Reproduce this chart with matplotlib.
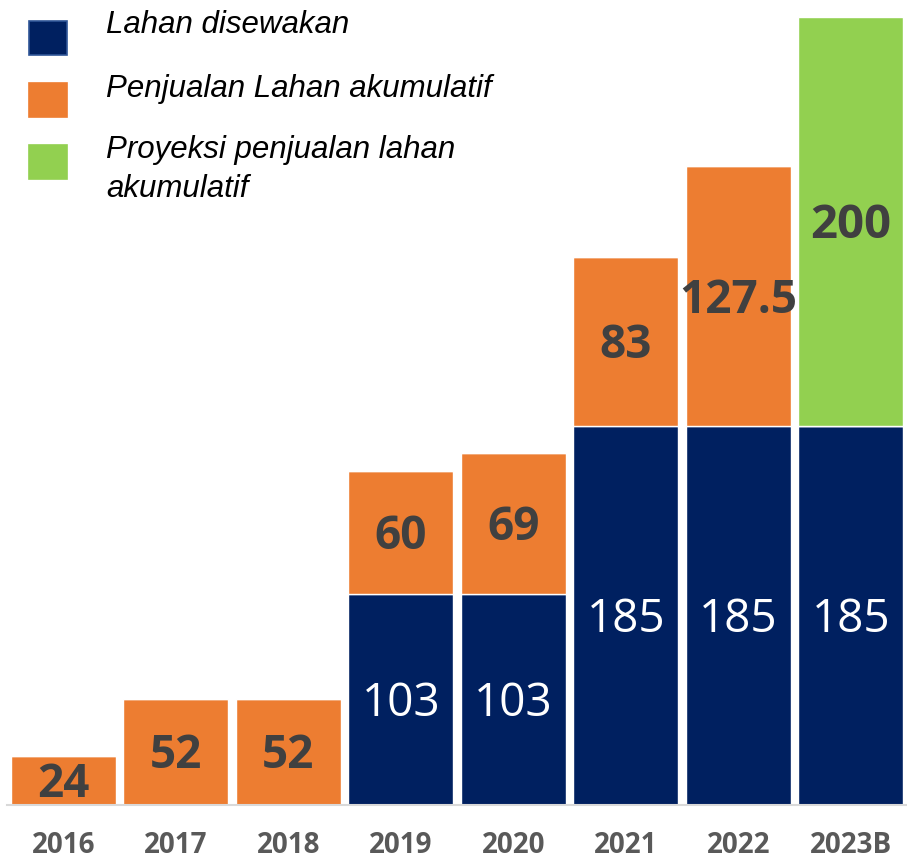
import matplotlib
matplotlib.use('Agg')
import matplotlib.pyplot as plt
from matplotlib.patches import Rectangle
import numpy as np

# data
years = ['2016', '2017', '2018', '2019', '2020', '2021', '2022', '2023B']
lahan_disewakan = [0, 0, 0, 103, 103, 185, 185, 185]
penjualan_akumulatif = [24, 52, 52, 60, 69, 83, 127.5, 0]
proyeksi_penjualan = [0, 0, 0, 0, 0, 0, 0, 200]

legend_labels = [['Lahan disewakan'], ['Penjualan Lahan akumulatif'],
                 ['Proyeksi penjualan lahan', 'akumulatif']]

navy = '#002060'
orange = '#ED7D31'
green = '#92D050'

W, H = 907, 861
fig = plt.figure(figsize=(W / 100, H / 100), dpi=100)
ax = fig.add_axes([7 / W, 56 / H, 900 / W, 788 / H])

x = np.arange(len(years))
width = 0.93
kw = dict(width=width, edgecolor='white', linewidth=1.0)

ax.bar(x, lahan_disewakan, color=navy, **kw)
ax.bar(x, penjualan_akumulatif, bottom=lahan_disewakan, color=orange, **kw)
bottom2 = np.array(lahan_disewakan) + np.array(penjualan_akumulatif)
ax.bar(x, proyeksi_penjualan, bottom=bottom2, color=green, **kw)

# value labels
for i in range(len(years)):
    if lahan_disewakan[i] > 0:
        ax.text(x[i], lahan_disewakan[i] / 2 - 2, f'{lahan_disewakan[i]:g}',
                ha='center', va='center', color='white', fontsize=33,
                family='Open Sans')
    if penjualan_akumulatif[i] > 0:
        ax.text(x[i], lahan_disewakan[i] + penjualan_akumulatif[i] / 2 - 2,
                f'{penjualan_akumulatif[i]:g}', ha='center', va='center',
                color='#404040', fontsize=33, fontweight='bold',
                family='Open Sans')
    if proyeksi_penjualan[i] > 0:
        ax.text(x[i], bottom2[i] + proyeksi_penjualan[i] / 2 - 2,
                f'{proyeksi_penjualan[i]:g}', ha='center', va='center',
                color='#404040', fontsize=34, fontweight='bold',
                family='Open Sans')

ax.set_xlim(-0.5, 7.5)
ax.set_ylim(0, 385.1)
ax.set_xticks(x)
ax.set_xticklabels(years, fontsize=20, fontweight='bold', color='#595959',
                   family='Open Sans')
ax.tick_params(axis='x', length=0, pad=19)
ax.set_yticks([])
for s in ['top', 'right', 'left']:
    ax.spines[s].set_visible(False)
ax.spines['bottom'].set_color('#D9D9D9')
ax.spines['bottom'].set_linewidth(1.5)

# legend, drawn by hand (pixel positions from top-left)
def fx(px):
    return px / W

def fy(py):
    return 1 - py / H

boxes = [(21, navy, '#2F5597'), (83, orange, orange), (145, green, green)]
baselines = [[33], [97], [158, 197]]
for (top, fc, ec), lines, bases in zip(boxes, legend_labels, baselines):
    fig.patches.append(Rectangle((fx(29), fy(top + 34)), 38 / W, 34 / H,
                                 transform=fig.transFigure, facecolor=fc,
                                 edgecolor=ec, linewidth=1.2))
    for line, base in zip(lines, bases):
        fig.text(fx(106), fy(base), line, fontsize=22.5, style='italic',
                 family='Liberation Sans', color='black', va='baseline')

fig.savefig('out.png', dpi=100)
